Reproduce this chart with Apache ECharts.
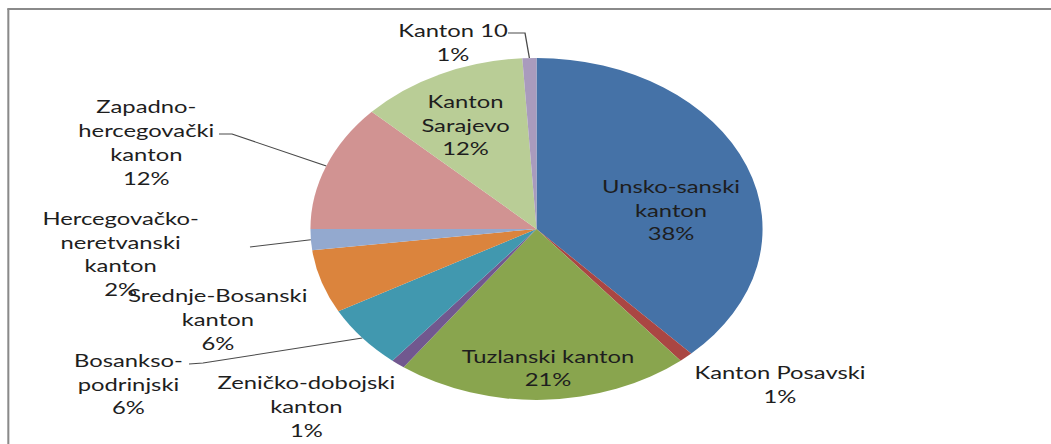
<!DOCTYPE html>
<html>
<head>
<meta charset="utf-8">
<script src="https://cdn.jsdelivr.net/npm/echarts@6/dist/echarts.min.js"></script>
<style>
  html, body { margin: 0; padding: 0; background: #ffffff; }
  #frame { position: relative; width: 1051px; height: 444px; overflow: hidden; background: #ffffff; }
  /* the chart is laid out narrower and widened afterwards, giving an oval pie */
  #chart { position: absolute; left: 0; top: 0; height: 444px; transform-origin: 0 0; }
</style>
</head>
<body>
<div id="frame"><div id="chart"></div></div>
<script>
// Share of each canton (percent)
const categories = [
  'Unsko-sanski\nkanton',
  'Kanton Posavski',
  'Tuzlanski kanton',
  'Zeničko-dobojski\nkanton',
  'Bosankso-\npodrinjski',
  'Srednje-Bosanski\nkanton',
  'Hercegovačko-\nneretvanski\nkanton',
  'Zapadno-\nhercegovački\nkanton',
  'Kanton\nSarajevo',
  'Kanton 10'
];
const values = [38, 1, 21, 1, 6, 6, 2, 12, 12, 1];

// Slice colours
const palette = ['#4572A7', '#AA4643', '#89A54E', '#71588F', '#4198AF',
                 '#DB843D', '#93A9CF', '#D19392', '#B9CD96', '#A99BBD'];

const PAGE_W = 1051, PAGE_H = 444;
const STRETCH = 1.322;                 // horizontal widening of the whole chart
const INNER_W = PAGE_W / STRETCH;

// Label block centres on the page (before the inner chart is narrowed)
const labelCentres = [
  [671, 209.4], [780, 383.6], [548, 367.3], [306.3, 405.9], [128.4, 383.4],
  [217.8, 318.9], [120.6, 253.2], [146.3, 141.6], [465.5, 124.4], [453, 41.7]
];
// Leader lines: start (and bend) points on the page; the end sits on the slice edge
const leaders = {
  4: [[189, 364], [203, 363]],
  6: [[250, 247]],
  7: [[219, 134], [232, 134]],
  9: [[508, 33], [525, 33]]
};

const chartEl = document.getElementById('chart');
chartEl.style.width = INNER_W + 'px';
chartEl.style.transform = 'scaleX(' + STRETCH + ')';

const chart = echarts.init(chartEl, null, { renderer: 'svg', width: INNER_W, height: PAGE_H });

const toInner = p => [p[0] / STRETCH, p[1]];

chart.setOption({
  backgroundColor: '#ffffff',
  animation: false,
  color: palette,
  graphic: [
    { type: 'line', silent: true,
      shape: { x1: 6.3, y1: 9, x2: 6.3, y2: PAGE_H },
      style: { stroke: '#8a8a8a', lineWidth: 1.55 } },
    { type: 'line', silent: true,
      shape: { x1: 5.5, y1: 9, x2: INNER_W, y2: 9 },
      style: { stroke: '#8a8a8a', lineWidth: 2 } }
  ],
  series: [{
    type: 'pie',
    center: [536.5 / STRETCH, 228.9],
    radius: 171,
    startAngle: 90,
    clockwise: true,
    avoidLabelOverlap: false,
    percentPrecision: 0,
    itemStyle: { borderWidth: 0 },
    emphasis: { disabled: true },
    label: {
      show: true,
      position: 'outside',
      formatter: '{b}\n{d}%',
      fontFamily: 'Lato',
      fontSize: 18,
      lineHeight: 23.8,
      color: '#1e1e1e',
      overflow: 'none'
    },
    labelLine: {
      show: true,
      length: 10,
      length2: 10,
      smooth: false,
      lineStyle: { color: '#4a4a4a', width: 1 }
    },
    labelLayout: function (params) {
      const i = params.dataIndex;
      const c = toInner(labelCentres[i]);
      const out = { x: c[0], y: c[1], align: 'center', verticalAlign: 'middle' };
      if (leaders[i] && params.labelLinePoints) {
        const pts = leaders[i].map(toInner);
        pts.push(params.labelLinePoints[0]);
        out.labelLinePoints = pts;
      }
      return out;
    },
    data: categories.map((name, i) => ({
      name: name,
      value: values[i],
      labelLine: { show: !!leaders[i] }
    }))
  }]
});
</script>
</body>
</html>
